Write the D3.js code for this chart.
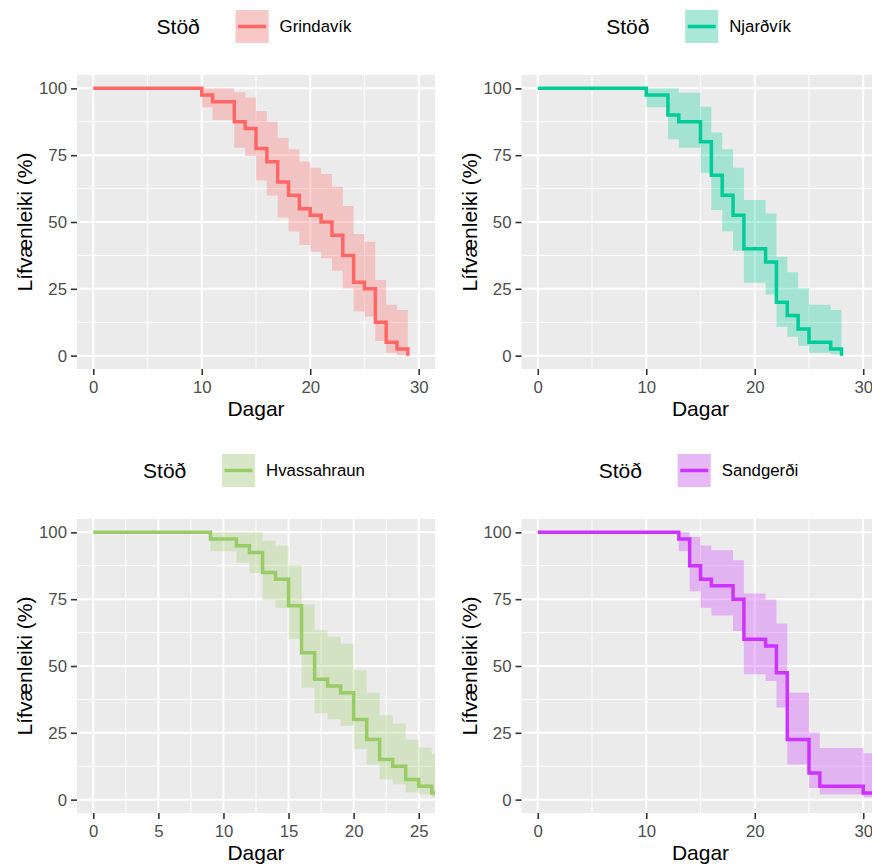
<!DOCTYPE html>
<html>
<head>
<meta charset="utf-8">
<script src="https://cdn.jsdelivr.net/npm/d3@7"></script>
<style>
  body { margin: 0; background: #fff; }
  svg { display: block; font-family: "Liberation Sans", Arial, sans-serif; }
</style>
</head>
<body>
<script>
// Kaplan-Meier curves, one panel per station (step after each time)
var stations = ["Grindavík", "Njarðvík", "Hvassahraun", "Sandgerði"];
var lineColors = ["#FF6666", "#00CC99", "#99CC66", "#CC33FF"];
var legendTitle = "Stöð";
var xTitle = "Dagar";
var yTitle = "Lífvænleiki (%)";
var yTicks = [0, 25, 50, 75, 100];
var xTicks = [[0, 10, 20, 30], [0, 10, 20, 30], [0, 5, 10, 15, 20, 25], [0, 10, 20, 30]];
var xMax = [30, 30, 25, 30];

var grindavikTime  = [0, 10, 11, 13, 14, 15, 16, 17, 18, 19, 20, 21, 22, 23, 24, 25, 26, 27, 28, 29];
var grindavikSurv  = [100, 97.5, 95, 87.5, 85, 77.5, 72.5, 65, 60, 55, 52.5, 50, 45, 37.5, 27.5, 25, 12.5, 5, 2.5, 0];
var grindavikUpper = [100, 100, 100, 98.5, 96.6, 91.5, 87.5, 81.5, 77.2, 72.6, 70.3, 68, 63.2, 56, 45.5, 42.6, 28.3, 19, 17.1, null];
var grindavikLower = [100, 92.9, 88.2, 77.8, 74.7, 65.5, 59.9, 51.7, 46.4, 41.4, 38.9, 36.4, 31.8, 25.1, 16.5, 14.6, 5.5, 1.1, 0.2, null];

var njardvikTime  = [0, 10, 12, 13, 15, 16, 17, 18, 19, 21, 22, 23, 24, 25, 27, 28];
var njardvikSurv  = [100, 97.5, 90, 87.5, 80, 67.5, 60, 52.5, 40, 35, 20, 15, 10, 5, 2.5, 0];
var njardvikUpper = [100, 100, 100, 98.4, 93.1, 83.5, 77.2, 70.3, 58.2, 53.2, 37, 31.2, 25.2, 19, 17.1, null];
var njardvikLower = [100, 92.9, 81, 77.8, 68.4, 54.5, 46.4, 39.2, 27.3, 22.9, 10.8, 7.1, 3.7, 1.1, 0.5, null];

var hvassahraunTime  = [0, 9, 11, 12, 13, 14, 15, 16, 17, 18, 19, 20, 21, 22, 23, 24, 25, 26, 27];
var hvassahraunSurv  = [100, 97.5, 95, 92.5, 85, 82.5, 72.5, 55, 45, 42.5, 40, 30, 22.5, 15, 12.5, 7.5, 5, 2.5, 2.5];
var hvassahraunUpper = [100, 100, 100, 100, 96.9, 95, 87.7, 73, 63.4, 60.9, 58.3, 48.4, 40, 31.6, 28.5, 22.4, 19.5, 17, 17];
var hvassahraunLower = [100, 92.9, 88.6, 84.8, 74.6, 71.8, 60.2, 41.9, 32.3, 30.1, 27.6, 18.9, 13.1, 7.5, 5.8, 2.7, 1.9, 0.9, 0.9];

var sandgerdiTime  = [0, 13, 14, 15, 16, 18, 19, 21, 22, 23, 25, 26, 30, 32];
var sandgerdiSurv  = [100, 97.5, 87.5, 82.5, 80, 75, 60, 57.5, 47.5, 22.5, 10, 5, 2.5, 2.5];
var sandgerdiUpper = [100, 100, 98.3, 95.1, 93.3, 89.6, 77.1, 74.9, 65.9, 40, 25.1, 19.3, 17.4, 17.4];
var sandgerdiLower = [100, 92.9, 78, 71.8, 68.9, 63.1, 46.9, 44.4, 34.5, 13.1, 4.4, 1.9, 0.9, 0.9];

var times  = [grindavikTime, njardvikTime, hvassahraunTime, sandgerdiTime];
var survs  = [grindavikSurv, njardvikSurv, hvassahraunSurv, sandgerdiSurv];
var uppers = [grindavikUpper, njardvikUpper, hvassahraunUpper, sandgerdiUpper];
var lowers = [grindavikLower, njardvikLower, hvassahraunLower, sandgerdiLower];

var width = 872, height = 868;
var cells = [[0, 0], [444.5, 0], [0, 444], [444.5, 444]];
var panel = {left: 77, right: 435, top: 75, bottom: 369};
var titleSize = 21, textSize = 16.8;

var svg = d3.select("body").append("svg")
	.attr("width", width)
	.attr("height", height);

stations.forEach(function (name, i) {
	var g = svg.append("g")
		.attr("transform", "translate(" + cells[i][0] + "," + cells[i][1] + ")");
	var color = lineColors[i];
	var xm = xMax[i];

	var x = d3.scaleLinear().domain([-0.05 * xm, 1.05 * xm]).range([panel.left, panel.right]);
	var y = d3.scaleLinear().domain([-5, 105]).range([panel.bottom, panel.top]);

	g.append("rect")
		.attr("x", panel.left).attr("y", panel.top)
		.attr("width", panel.right - panel.left)
		.attr("height", panel.bottom - panel.top)
		.attr("fill", "#EBEBEB");

	// grid
	var xt = xTicks[i];
	var xStep = xt[1] - xt[0];
	var xMinor = d3.range(xt[0] - xStep / 2, x.domain()[1], xStep).filter(function (v) { return v > x.domain()[0]; });
	var yMinor = d3.range(12.5, 100, 25);

	g.selectAll(".xminor").data(xMinor).enter().append("line")
		.attr("x1", function (d) { return x(d); }).attr("x2", function (d) { return x(d); })
		.attr("y1", panel.top).attr("y2", panel.bottom)
		.attr("stroke", "#fff").attr("stroke-width", 1);
	g.selectAll(".yminor").data(yMinor).enter().append("line")
		.attr("y1", function (d) { return y(d); }).attr("y2", function (d) { return y(d); })
		.attr("x1", panel.left).attr("x2", panel.right)
		.attr("stroke", "#fff").attr("stroke-width", 1);
	g.selectAll(".xmajor").data(xt).enter().append("line")
		.attr("x1", function (d) { return x(d); }).attr("x2", function (d) { return x(d); })
		.attr("y1", panel.top).attr("y2", panel.bottom)
		.attr("stroke", "#fff").attr("stroke-width", 2);
	g.selectAll(".ymajor").data(yTicks).enter().append("line")
		.attr("y1", function (d) { return y(d); }).attr("y2", function (d) { return y(d); })
		.attr("x1", panel.left).attr("x2", panel.right)
		.attr("stroke", "#fff").attr("stroke-width", 2);

	// clip
	var clipId = "clip" + i;
	g.append("clipPath").attr("id", clipId)
		.append("rect")
		.attr("x", panel.left).attr("y", panel.top)
		.attr("width", panel.right - panel.left)
		.attr("height", panel.bottom - panel.top);

	var pts = times[i].map(function (t, k) {
		return {
			t: t,
			s: survs[i][k],
			lo: lowers[i][k] != null ? lowers[i][k] : lowers[i][k - 1],
			up: uppers[i][k] != null ? uppers[i][k] : uppers[i][k - 1]
		};
	});

	var area = d3.area()
		.curve(d3.curveStepAfter)
		.x(function (d) { return x(d.t); })
		.y0(function (d) { return y(d.lo); })
		.y1(function (d) { return y(d.up); });
	var line = d3.line()
		.curve(d3.curveStepAfter)
		.x(function (d) { return x(d.t); })
		.y(function (d) { return y(d.s); });

	var data = g.append("g").attr("clip-path", "url(#" + clipId + ")");
	data.append("path").datum(pts)
		.attr("d", area)
		.attr("fill", color).attr("fill-opacity", 0.3);
	data.append("path").datum(pts)
		.attr("d", line)
		.attr("fill", "none")
		.attr("stroke", color).attr("stroke-width", 3.5)
		.attr("stroke-linejoin", "miter");

	// axes
	var yAxis = g.append("g")
		.attr("transform", "translate(" + panel.left + ",0)")
		.call(d3.axisLeft(y).tickValues(yTicks).tickSize(6).tickPadding(4));
	var xAxis = g.append("g")
		.attr("transform", "translate(0," + panel.bottom + ")")
		.call(d3.axisBottom(x).tickValues(xt).tickSize(6).tickPadding(6));
	[yAxis, xAxis].forEach(function (ax) {
		ax.select(".domain").remove();
		ax.selectAll("line").attr("stroke", "#333333").attr("stroke-width", 1.6);
		ax.selectAll("text")
			.attr("fill", "#4D4D4D")
			.style("font-size", textSize + "px")
			.style("font-family", "'Liberation Sans', Arial, sans-serif");
	});

	g.append("text")
		.attr("x", (panel.left + panel.right) / 2)
		.attr("y", panel.bottom + 47)
		.attr("text-anchor", "middle")
		.style("font-size", titleSize + "px")
		.text(xTitle);
	g.append("text")
		.attr("transform", "translate(32," + (panel.top + panel.bottom) / 2 + ") rotate(-90)")
		.attr("text-anchor", "middle")
		.style("font-size", titleSize + "px")
		.text(yTitle);

	// legend
	var leg = g.append("g");
	var legTitle = leg.append("text")
		.attr("x", 0).attr("y", 0).attr("dy", "0.35em")
		.style("font-size", titleSize + "px")
		.text(legendTitle);
	leg.append("rect")
		.attr("x", 79).attr("y", -16.5)
		.attr("width", 33).attr("height", 33)
		.attr("fill", "#F2F2F2");
	leg.append("rect")
		.attr("x", 79).attr("y", -16.5)
		.attr("width", 33).attr("height", 33)
		.attr("fill", color).attr("fill-opacity", 0.3);
	leg.append("line")
		.attr("x1", 81.5).attr("x2", 109.5)
		.attr("y1", 0).attr("y2", 0)
		.attr("stroke", color).attr("stroke-width", 3.5);
	var legLabel = leg.append("text")
		.attr("x", 123).attr("y", 0).attr("dy", "0.35em")
		.style("font-size", textSize + "px")
		.text(name);
	var legWidth = 123 + legLabel.node().getComputedTextLength();
	leg.attr("transform", "translate(" + (254 - legWidth / 2) + ",26.5)");
});
</script>
</body>
</html>
